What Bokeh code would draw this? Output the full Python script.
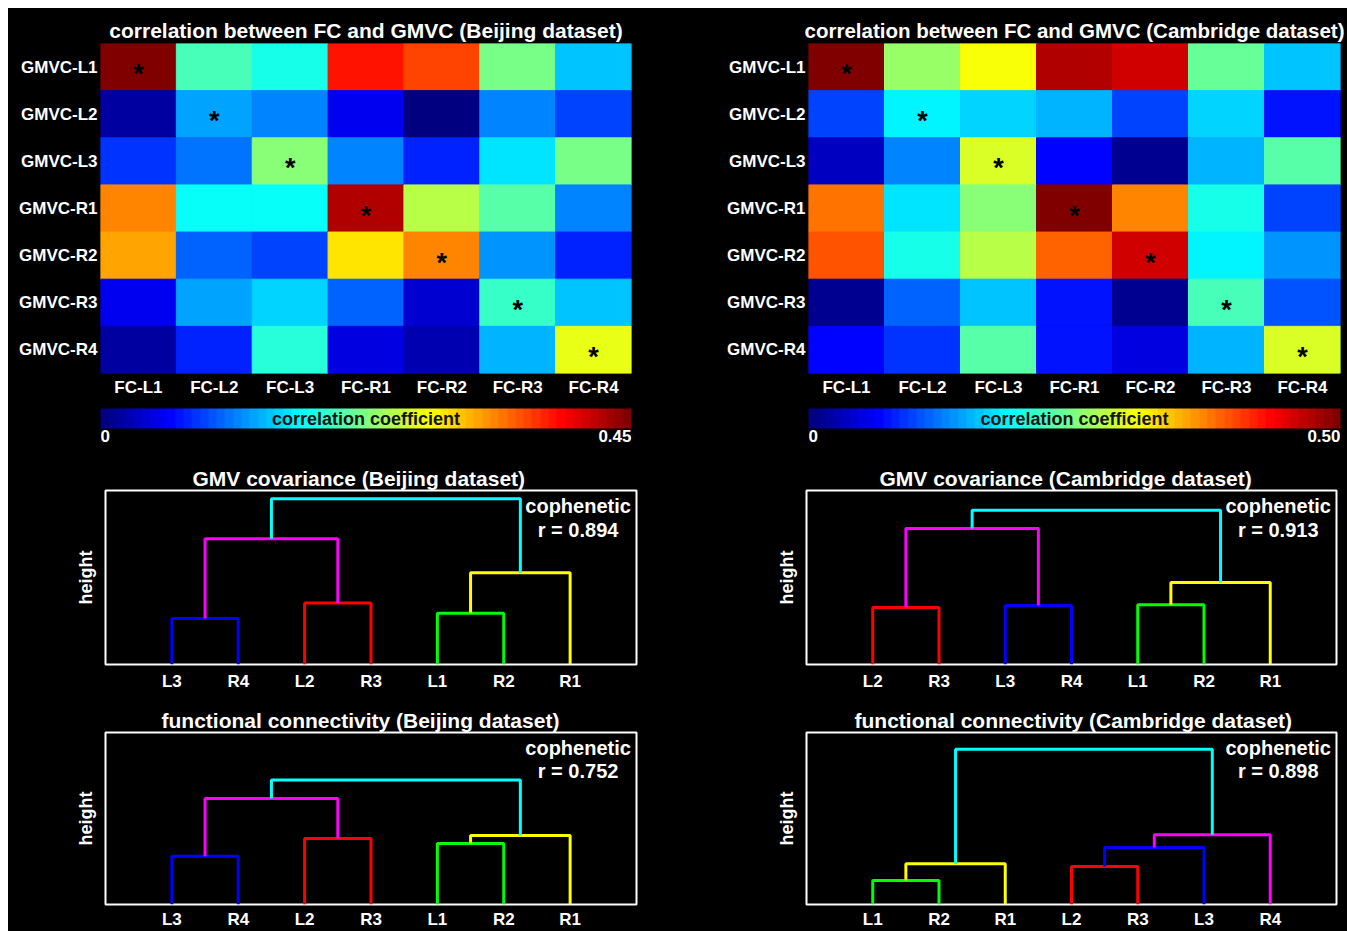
import numpy as np
from bokeh.plotting import figure
from bokeh.models import (FactorRange, Range1d, LinearColorMapper, ColorBar,
                          FixedTicker, Label, ColumnDataSource)
from bokeh.layouts import column, row
from bokeh.transform import linear_cmap
from bokeh.core.properties import value
from bokeh.embed import file_html
from bokeh.resources import INLINE

# ---------------- data ----------------
FC_LABELS = ["FC-L1", "FC-L2", "FC-L3", "FC-R1", "FC-R2", "FC-R3", "FC-R4"]
GMVC_LABELS = ["GMVC-L1", "GMVC-L2", "GMVC-L3", "GMVC-R1", "GMVC-R2", "GMVC-R3", "GMVC-R4"]

# rows: GMVC-L1..R4 ; columns: FC-L1..R4
beijing_corr = [
    [0.445, 0.200, 0.182, 0.385, 0.359, 0.220, 0.144],
    [0.019, 0.130, 0.118, 0.050, 0.005, 0.113, 0.090],
    [0.079, 0.109, 0.230, 0.113, 0.074, 0.158, 0.220],
    [0.336, 0.173, 0.173, 0.427, 0.252, 0.204, 0.118],
    [0.323, 0.100, 0.090, 0.290, 0.332, 0.123, 0.074],
    [0.054, 0.127, 0.151, 0.105, 0.036, 0.196, 0.144],
    [0.019, 0.074, 0.187, 0.045, 0.028, 0.140, 0.270],
]
cambridge_corr = [
    [0.495, 0.261, 0.312, 0.472, 0.458, 0.237, 0.160],
    [0.100, 0.180, 0.170, 0.155, 0.100, 0.165, 0.075],
    [0.035, 0.126, 0.290, 0.068, 0.011, 0.150, 0.227],
    [0.379, 0.175, 0.250, 0.500, 0.371, 0.198, 0.097],
    [0.394, 0.198, 0.275, 0.390, 0.458, 0.185, 0.140],
    [0.011, 0.117, 0.160, 0.078, 0.011, 0.222, 0.107],
    [0.065, 0.088, 0.232, 0.078, 0.050, 0.150, 0.290],
]
beijing_cmax = 0.45
cambridge_cmax = 0.50
cbar_tick_labels_beijing = ["0", "0.45"]
cbar_tick_labels_cambridge = ["0", "0.50"]

# significant cells (asterisks): (FC, GMVC)
significant = [("FC-L1", "GMVC-L1"), ("FC-L2", "GMVC-L2"), ("FC-L3", "GMVC-L3"),
               ("FC-R1", "GMVC-R1"), ("FC-R2", "GMVC-R2"), ("FC-R3", "GMVC-R3"),
               ("FC-R4", "GMVC-R4")]

# dendrograms: leaf order + merges (left, right, height, colour); ints refer to earlier merges
gmv_beijing_leaves = ["L3", "R4", "L2", "R3", "L1", "R2", "R1"]
gmv_beijing_merges = [("L3", "R4", 0.264, "#0000ff"), ("L2", "R3", 0.353, "#ff0000"),
                      ("L1", "R2", 0.295, "#00ff00"), (2, "R1", 0.527, "#ffff00"),
                      (0, 1, 0.722, "#ff00ff"), (4, 3, 0.952, "#00ffff")]
gmv_beijing_coph = 0.894

gmv_cambridge_leaves = ["L2", "R3", "L3", "R4", "L1", "R2", "R1"]
gmv_cambridge_merges = [("L2", "R3", 0.327, "#ff0000"), ("L3", "R4", 0.339, "#0000ff"),
                        ("L1", "R2", 0.343, "#00ff00"), (2, "R1", 0.471, "#ffff00"),
                        (0, 1, 0.781, "#ff00ff"), (4, 3, 0.886, "#00ffff")]
gmv_cambridge_coph = 0.913

fc_beijing_leaves = ["L3", "R4", "L2", "R3", "L1", "R2", "R1"]
fc_beijing_merges = [("L3", "R4", 0.280, "#0000ff"), ("L2", "R3", 0.383, "#ff0000"),
                     ("L1", "R2", 0.355, "#00ff00"), (2, "R1", 0.401, "#ffff00"),
                     (0, 1, 0.617, "#ff00ff"), (4, 3, 0.724, "#00ffff")]
fc_beijing_coph = 0.752

fc_cambridge_leaves = ["L1", "R2", "R1", "L2", "R3", "L3", "R4"]
fc_cambridge_merges = [("L1", "R2", 0.139, "#00ff00"), (0, "R1", 0.237, "#ffff00"),
                       ("L2", "R3", 0.221, "#ff0000"), (2, "L3", 0.331, "#0000ff"),
                       (3, "R4", 0.405, "#ff00ff"), (1, 4, 0.903, "#00ffff")]
fc_cambridge_coph = 0.898

# ---------------- styling ----------------
FONT = "Liberation Sans"
BG = "black"


def jet(n=64):
    cols = []
    for i in range(n):
        t = i / (n - 1)
        r = min(max(1.5 - abs(4 * t - 3), 0), 1)
        g = min(max(1.5 - abs(4 * t - 2), 0), 1)
        b = min(max(1.5 - abs(4 * t - 1), 0), 1)
        cols.append("#%02x%02x%02x" % (int(round(r * 255)), int(round(g * 255)), int(round(b * 255))))
    return cols


JET = jet(64)


def base_fig(width, height, left, right, top, bottom, **kw):
    p = figure(width=width, height=height, output_backend="svg", toolbar_location=None,
               min_border_left=left, min_border_right=right, min_border_top=top,
               min_border_bottom=bottom, background_fill_color=BG, border_fill_color=BG,
               **kw)
    p.grid.visible = False
    return p


def style_title(p, size="21px", standoff=3, align="center", offset=0):
    p.title.text_color = "white"
    p.title.text_font = FONT
    p.title.text_font_style = "bold"
    p.title.text_font_size = size
    p.title.align = align
    p.title.offset = offset
    p.title.standoff = standoff


def plain_axis(ax):
    ax.axis_line_color = None
    ax.major_tick_line_color = None
    ax.minor_tick_line_color = None
    ax.major_tick_out = 0
    ax.major_tick_in = 0
    ax.minor_tick_out = 0
    ax.minor_tick_in = 0
    ax.major_label_text_color = "white"
    ax.major_label_text_font = FONT
    ax.major_label_text_font_style = "bold"
    ax.major_label_text_font_size = "17px"


def heatmap(vals, vmax, title, width, left, right, title_size):
    xs, ys, vs = [], [], []
    for i, g in enumerate(GMVC_LABELS):
        for j, f in enumerate(FC_LABELS):
            xs.append(f); ys.append(g); vs.append(vals[i][j])
    src = ColumnDataSource(dict(fc=xs, gm=ys, val=vs))
    p = base_fig(width, 395, left, right, 35, 30, title=title,
                 x_range=FactorRange(*FC_LABELS), y_range=FactorRange(*reversed(GMVC_LABELS)))
    p.outline_line_color = None
    style_title(p, size=title_size)
    cmap = linear_cmap("val", JET, 0, vmax)
    p.rect(x="fc", y="gm", width=1, height=1, source=src, fill_color=cmap,
           line_color=cmap, line_width=1)
    ssrc = ColumnDataSource(dict(fc=[s[0] for s in significant], gm=[s[1] for s in significant],
                                 t=["*"] * len(significant)))
    p.text(x="fc", y="gm", text="t", source=ssrc, text_color="black",
           text_font=value(FONT), text_font_style="bold", text_font_size="27px",
           text_align="center", text_baseline="middle", y_offset=7)
    plain_axis(p.xaxis[0])
    plain_axis(p.yaxis[0])
    p.xaxis.major_label_standoff = 4
    p.yaxis.major_label_standoff = 3
    return p


def cbar_fig(vmax, labels, width, left, right, frame_w):
    p = base_fig(width, 52, left, right, 5, 7, x_range=Range1d(0, vmax), y_range=Range1d(0, 2))
    p.outline_line_color = None
    p.xaxis.visible = False
    p.yaxis.visible = False
    mapper = LinearColorMapper(palette=JET, low=0, high=vmax)
    cb = ColorBar(color_mapper=mapper, orientation="horizontal", location="top_left",
                  width=frame_w, height=20, margin=0, padding=0,
                  ticker=FixedTicker(ticks=[]), major_tick_line_color=None,
                  minor_tick_line_color=None, bar_line_color=None,
                  background_fill_color=None, border_line_color=None, label_standoff=0)
    p.add_layout(cb)
    t1 = p.text(x=[vmax / 2], y=[1.5], text=["correlation coefficient"], text_color="#141414",
                text_font=value(FONT), text_font_style="bold", text_font_size="18px",
                text_align="center", text_baseline="middle")
    t1.level = "overlay"
    p.text(x=[0, vmax], y=[1, 1], text=labels, text_color="white",
           text_font=value(FONT), text_font_style="bold", text_font_size="17px",
           text_align=["left", "right"], text_baseline="top", y_offset=1)
    return p


def dendro(leaves, merges, coph, title, width, height, left, right, top, bottom,
           lab_standoff, title_offset):
    p = base_fig(width, height, left, right, top, bottom, title=title,
                 x_range=Range1d(0, len(leaves) + 1), y_range=Range1d(0, 1))
    style_title(p, standoff=2, align="left", offset=title_offset)
    p.outline_line_color = "white"
    p.outline_line_width = 2
    pos = {lf: i + 1 for i, lf in enumerate(leaves)}
    nodes = []

    def get(ref):
        if isinstance(ref, str):
            return pos[ref], 0.0
        return nodes[ref]

    xs, ys, cs = [], [], []
    for a, b, h, c in merges:
        xa, ha = get(a)
        xb, hb = get(b)
        xs.append([xa, xa, xb, xb])
        ys.append([ha, h, h, hb])
        cs.append(c)
        nodes.append(((xa + xb) / 2, h))
    p.multi_line(xs=xs, ys=ys, line_color=cs, line_width=3)

    xa = p.xaxis[0]
    plain_axis(xa)
    xa.ticker = FixedTicker(ticks=list(range(1, len(leaves) + 1)))
    xa.major_label_overrides = {i + 1: lf for i, lf in enumerate(leaves)}
    xa.major_label_standoff = lab_standoff

    ya = p.yaxis[0]
    plain_axis(ya)
    ya.ticker = FixedTicker(ticks=[])
    ya.axis_label = "height"
    ya.axis_label_text_color = "white"
    ya.axis_label_text_font = FONT
    ya.axis_label_text_font_style = "bold"
    ya.axis_label_text_font_size = "18px"
    ya.axis_label_standoff = 10
    ya.major_label_standoff = 0

    for txt, yy in (("cophenetic", 0.91), ("r = %.3f" % coph, 0.775)):
        p.add_layout(Label(x=7.12, y=yy, text=txt, text_color="white", text_font=FONT,
                           text_font_style="bold", text_font_size="20px",
                           text_align="center", text_baseline="middle"))
    return p


hm_b = heatmap(beijing_corr, beijing_cmax, "correlation between FC and GMVC (Beijing dataset)",
               692, 92, 69, "21px")
hm_c = heatmap(cambridge_corr, cambridge_cmax, "correlation between FC and GMVC (Cambridge dataset)",
               647, 108, 7, "20.5px")
cb_b = cbar_fig(beijing_cmax, cbar_tick_labels_beijing, 692, 92, 69, 531)
cb_c = cbar_fig(cambridge_cmax, cbar_tick_labels_cambridge, 647, 108, 7, 532)

d1 = dendro(gmv_beijing_leaves, gmv_beijing_merges, gmv_beijing_coph,
            "GMV covariance (Beijing dataset)", 692, 240, 97, 64, 35, 31, 7, 87)
d2 = dendro(gmv_cambridge_leaves, gmv_cambridge_merges, gmv_cambridge_coph,
            "GMV covariance (Cambridge dataset)", 647, 240, 106, 11, 35, 31, 7, 73)
d3 = dendro(fc_beijing_leaves, fc_beijing_merges, fc_beijing_coph,
            "functional connectivity (Beijing dataset)", 692, 236, 97, 64, 37, 26, 5, 56)
d4 = dendro(fc_cambridge_leaves, fc_cambridge_merges, fc_cambridge_coph,
            "functional connectivity (Cambridge dataset)", 647, 236, 106, 11, 37, 26, 5, 48)

rows = [row(hm_b, hm_c, spacing=0, styles={"background-color": "black"}),
        row(cb_b, cb_c, spacing=0, styles={"background-color": "black"}),
        row(d1, d2, spacing=0, styles={"background-color": "black"}),
        row(d3, d4, spacing=0, styles={"background-color": "black"})]
layout = column(*rows, spacing=0, margin=(8, 0, 0, 8),
                styles={"background-color": "black"})

open("out.html", "w").write(file_html(layout, INLINE))
